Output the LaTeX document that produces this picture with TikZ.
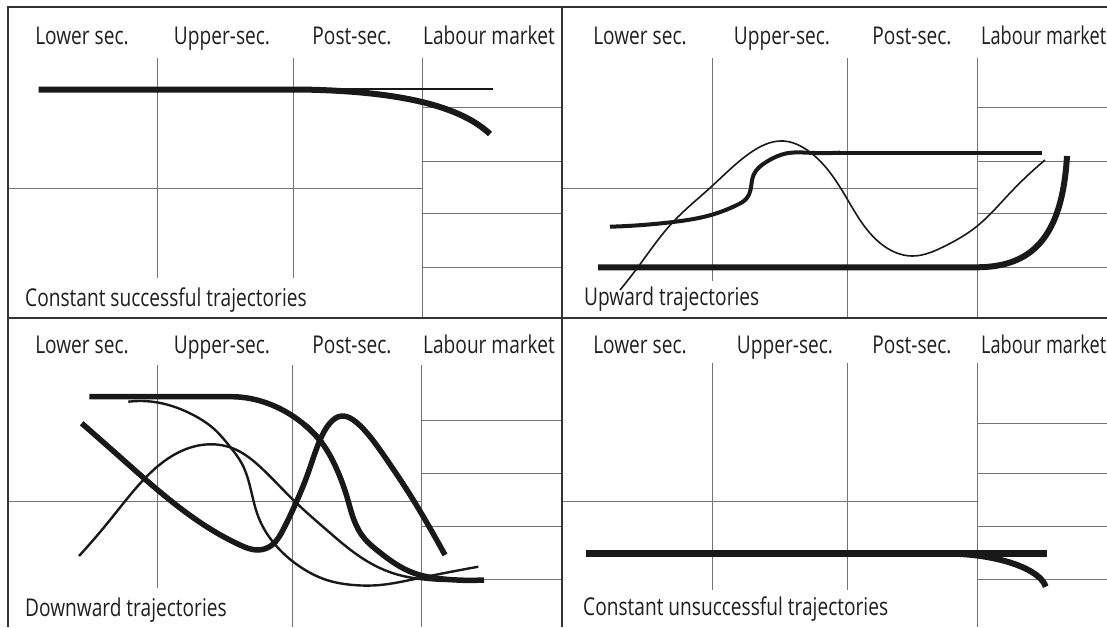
\documentclass[tikz,border=0pt]{standalone}
\usepackage{fontspec}
\setmainfont{Open Sans}[FakeStretch=0.78]
\usetikzlibrary{hobby}
\begin{document}
\begin{tikzpicture}[x=1pt,y=-1pt,
  frame/.style={line width=1.8pt, draw=black!80},
  gridl/.style={line width=1pt, draw=black!55},
  thinc/.style={line width=2.4pt, draw=black!90, line join=round},
  finec/.style={line width=1.6pt, draw=black!90, line join=round},
  medc/.style={line width=4pt, draw=black!90, line join=round},
  thickc/.style={line width=6pt, draw=black!90, line join=round},
  lab/.style={inner sep=0pt, anchor=base, text=black!88, font=\fontsize{24.5}{29}\selectfont},
  ttl/.style={lab, anchor=base west}
]
\useasboundingbox (0,0) rectangle (1107,627);
\fill[white] (0,0) rectangle (1107,627);

% ---------- grids ----------
% top-left
\draw[gridl] (157.5,58) -- (157.5,278);
\draw[gridl] (293,58) -- (293,278);
\draw[gridl] (422,58) -- (422,318);
\draw[gridl] (8,188) -- (422,188);
\foreach \yy in {107,161,213,267} \draw[gridl] (422,\yy) -- (562,\yy);
% top-right
\draw[gridl] (712,58) -- (712,281);
\draw[gridl] (847,58) -- (847,318);
\draw[gridl] (977,58) -- (977,318);
\draw[gridl] (562,188) -- (977,188);
\foreach \yy in {107,161,213,267} \draw[gridl] (977,\yy) -- (1110,\yy);
% bottom-left
\draw[gridl] (157.5,365) -- (157.5,588);
\draw[gridl] (292.5,365) -- (292.5,627);
\draw[gridl] (421.5,365) -- (421.5,627);
\draw[gridl] (8,501.5) -- (421.5,501.5);
\foreach \yy in {420,473.5,526.5,579.5} \draw[gridl] (421.5,\yy) -- (562,\yy);
% bottom-right
\draw[gridl] (712.5,363) -- (712.5,590);
\draw[gridl] (847,363) -- (847,590);
\draw[gridl] (977.5,363) -- (977.5,627);
\draw[gridl] (562,501) -- (977.5,501);
\foreach \yy in {423,473,526,579} \draw[gridl] (977.5,\yy) -- (1110,\yy);

% ---------- frame ----------
\draw[frame] (8,627) -- (8,7) -- (1110,7);
\draw[frame] (562,7) -- (562,627);
\draw[frame] (8,318) -- (1110,318);

% ---------- labels ----------
\node[lab] (tlA) at (82,44) {Lower sec.};
\node[lab] (tlB) at (222,44) {Upper-sec.};
\node[lab] (tlC) at (352,44) {Post-sec.};
\node[lab] (tlD) at (489,44) {Labour market};
\node[lab] (trA) at (640,44) {Lower sec.};
\node[lab] (trB) at (782,44) {Upper-sec.};
\node[lab] (trC) at (912,44) {Post-sec.};
\node[ttl] (trD) at (981,44) {\scalebox{0.95}[1]{Labour market}};
\node[lab] (blA) at (82,353) {Lower sec.};
\node[lab] (blB) at (222,353) {Upper-sec.};
\node[lab] (blC) at (352,353) {Post-sec.};
\node[lab] (blD) at (489,353) {Labour market};
\node[lab] (brA) at (640,353) {Lower sec.};
\node[lab] (brB) at (785,353) {Upper-sec.};
\node[lab] (brC) at (912,353) {Post-sec.};
\node[ttl] (brD) at (981,353) {\scalebox{0.95}[1]{Labour market}};

\node[ttl] (t1) at (25,306) {Constant successful trajectories};
\node[ttl] (t2) at (584,305) {Upward trajectories};
\node[ttl] (t3) at (25,616) {Downward trajectories};
\node[ttl] (t4) at (583,615) {Constant unsuccessful trajectories};

% ---------- panel 1 ----------
\draw[thinc] (38.6,89) -- (493,89);
\draw[thickc] (38.6,89.5) -- (300,89.5) .. controls (400,91) and (460,106) .. (490,134);

% ---------- panel 2 ----------
\draw[medc] (820,152.7) -- (1042,152.7);
\draw[medc, use Hobby shortcut] (610,226.7) .. (673,222) .. (711,215) .. (737,205) .. (746.7,198.3) .. (750.5,190) .. (753.5,175) .. (766.7,161.7) .. (786.7,153.3) .. (810,152.8) .. (840,152.7);
\draw[finec, use Hobby shortcut] (620,290) .. (638,267) .. (673,222) .. (711,187) .. (750,153) .. (783,141) .. (807,150) .. (846,197) .. (880,243) .. (912,256) .. (943,247) .. (976,227) .. (1010,193) .. (1045,160);
\draw[thickc] (598,267.3) -- (976,267.3) .. controls (1030,267.3) and (1062,240) .. (1067,156);

% ---------- panel 3 ----------
\draw[thickc, line width=5.5pt] (89.3,396.7) -- (232,396.7) .. controls (268,397) and (302,417) .. (322,443);
\draw[thickc, line width=5.5pt, use Hobby shortcut] (304.5,424.8) .. (322,443) .. (338,472) .. (347,497) .. (354,520) .. (364,538) .. (378,551) .. (395,563.5) .. (415,573.5) .. (443,579) .. (484,580);
\draw[thickc, line width=5.5pt, use Hobby shortcut] (81.7,423.3) .. (120,457) .. (157.7,490) .. (206.7,526.7) .. (240,545) .. (258,550) .. (272,545) .. (283,530) .. (295,505) .. (307,476) .. (320,440) .. (330,423) .. (341.7,416) .. (353.3,420) .. (367,433) .. (387,460) .. (407,490) .. (427,523) .. (445,555);
\draw[thinc, use Hobby shortcut] (128.3,401.7) .. (157.7,402.5) .. (193.3,415) .. (213.3,428.3) .. (230,446.7) .. (241.7,463.3) .. (248.3,480) .. (253.3,500) .. (258.3,516.7) .. (266.7,533.3) .. (280,550) .. (300,566.7) .. (326.7,580) .. (353.3,585) .. (380,585) .. (410,580) .. (443.3,573.3) .. (478.3,566.7);
\draw[thinc, use Hobby shortcut] (79,556) .. (110,520) .. (143.3,480) .. (176.7,453.3) .. (213.3,444.3) .. (236.7,450) .. (260,466.7) .. (293.3,500) .. (326.7,530) .. (360,556.7) .. (393.3,573.3) .. (420,579) .. (450,581);

% ---------- panel 4 ----------
\draw[thickc, line width=6.5pt] (585.7,553.3) -- (1047,553.3);
\draw[thickc] (960,554) .. controls (1000,556) and (1040,569) .. (1045.7,586.7);
\end{tikzpicture}
\end{document}
